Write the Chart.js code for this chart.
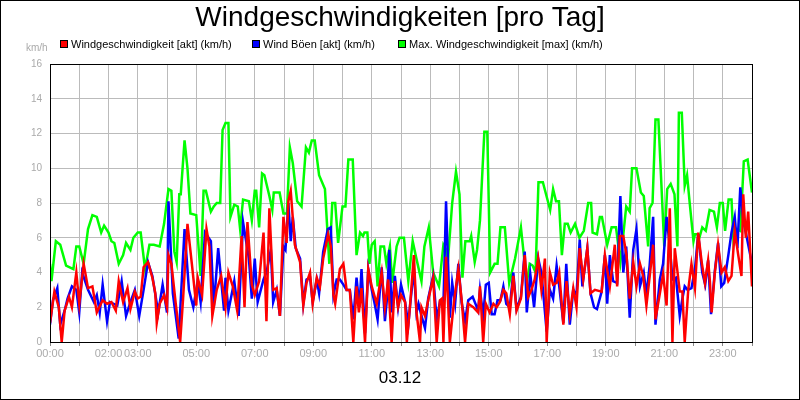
<!DOCTYPE html>
<html><head><meta charset="utf-8">
<script src="https://cdn.jsdelivr.net/npm/chart.js@4"></script>
<style>html,body{margin:0;padding:0;background:#fff}#w{width:800px;height:400px;position:relative}</style>
</head><body><div id="w"><canvas id="c" width="800" height="400"></canvas></div>
<script>
const title = "Windgeschwindigkeiten [pro Tag]";
const dateLabel = "03.12";
const seriesNames = ["Windgeschwindigkeit [akt] (km/h)", "Wind Böen [akt] (km/h)", "Max. Windgeschwindigkeit [max] (km/h)"];
const tickHours = [0,2,3,5,7,9,11,13,15,17,19,21,23];

const redT = [0,0.15,0.3,0.4,0.5,0.65,0.75,0.9,1.0,1.15,1.3,1.45,1.6,1.8,1.95,2.1,2.25,2.35,2.5,2.65,2.75,2.9,3.0,3.1,3.2,3.35,3.5,3.6,3.65,3.75,3.9,4.0,4.05,4.15,4.3,4.45,4.55,4.7,4.85,5.0,5.05,5.2,5.35,5.45,5.55,5.7,5.85,6.0,6.1,6.25,6.4,6.55,6.65,6.75,6.9,7.0,7.15,7.3,7.4,7.5,7.63,7.75,7.86,7.98,8.09,8.15,8.23,8.37,8.55,8.66,8.77,8.89,8.98,9.12,9.23,9.34,9.51,9.6,9.69,9.75,9.91,10.03,10.14,10.25,10.37,10.48,10.56,10.65,10.77,10.88,11.0,11.17,11.34,11.45,11.56,11.68,11.79,11.9,12.0,12.14,12.2,12.31,12.44,12.53,12.65,12.7,12.82,12.93,13.1,13.22,13.33,13.4,13.45,13.54,13.67,13.81,13.96,14.07,14.19,14.3,14.47,14.64,14.7,14.81,14.9,15.03,15.16,15.27,15.38,15.5,15.6,15.72,15.84,15.95,16.1,16.23,16.35,16.46,16.57,16.69,16.8,16.92,16.98,17.09,17.2,17.32,17.41,17.55,17.66,17.77,17.89,18.0,18.11,18.23,18.37,18.48,18.63,18.86,18.97,19.14,19.31,19.39,19.48,19.6,19.71,19.82,19.94,20.05,20.17,20.28,20.39,20.53,20.62,20.7,20.79,20.96,21.08,21.19,21.28,21.36,21.53,21.62,21.7,21.82,21.93,22.05,22.16,22.28,22.39,22.5,22.56,22.62,22.73,22.84,22.96,23.07,23.19,23.3,23.41,23.53,23.64,23.7,23.79,23.87,24.0];
const redV = [1.1,2.9,2.0,0.0,1.8,2.6,2.0,4.0,2.2,4.5,3.1,3.2,1.7,2.4,2.2,2.3,1.8,3.5,2.3,3.1,1.9,2.9,2.5,2.6,4.3,4.6,3.7,2.8,1.1,2.2,2.7,2.0,5.0,4.5,2.2,0.0,2.5,6.8,4.5,2.1,3.7,2.7,6.5,5.5,1.5,3.0,3.8,2.0,4.0,3.2,1.8,6.1,2.0,6.9,3.3,2.7,3.5,6.3,1.2,7.7,3.0,3.1,1.5,7.2,5.7,8.1,8.7,5.6,4.6,2.1,3.4,4.0,2.2,3.7,3.2,4.8,6.2,5.5,2.7,2.2,4.2,4.5,3.0,3.0,0.0,3.2,1.7,3.1,0.0,4.2,3.2,2.2,4.0,2.0,3.6,0.0,3.5,2.0,2.7,2.3,0.0,2.1,5.0,1.7,0.0,2.0,1.5,2.4,3.7,0.0,2.4,2.5,0.0,4.9,0.0,2.3,4.2,2.5,0.0,2.2,2.0,1.7,3.2,0.0,2.2,1.7,2.2,2.0,2.3,3.0,2.8,1.6,3.8,1.8,2.5,5.0,2.6,3.0,3.6,4.8,3.0,4.8,0.0,4.0,3.3,3.4,4.0,1.0,3.5,1.6,3.1,2.0,5.4,3.6,5.4,2.8,3.0,2.9,5.0,3.2,5.6,3.2,6.1,6.1,5.0,2.5,4.6,3.2,4.5,3.8,2.1,4.2,5.6,1.3,2.2,3.9,2.1,7.7,0.0,5.4,2.9,2.9,0.0,3.0,4.5,3.1,6.3,4.6,3.4,4.7,3.5,1.7,4.0,5.6,4.0,4.3,3.5,3.8,6.4,5.0,3.8,8.5,6.0,7.5,3.2];

const blueT = [0,0.1,0.25,0.35,0.5,0.6,0.75,0.9,1.0,1.1,1.3,1.5,1.6,1.7,1.8,1.95,2.05,2.3,2.45,2.6,2.75,2.9,3.05,3.2,3.35,3.5,3.7,3.85,4.0,4.05,4.2,4.4,4.6,4.75,4.9,5.05,5.15,5.3,5.5,5.6,5.75,5.95,6.0,6.1,6.3,6.45,6.6,6.8,6.9,7.0,7.1,7.3,7.4,7.55,7.63,7.75,7.86,7.98,8.05,8.15,8.23,8.3,8.4,8.55,8.66,8.77,8.89,8.98,9.12,9.2,9.34,9.5,9.6,9.69,9.8,9.91,10.03,10.14,10.25,10.37,10.48,10.58,10.65,10.77,10.88,11.0,11.1,11.2,11.34,11.45,11.52,11.6,11.68,11.79,11.9,12.0,12.14,12.25,12.31,12.44,12.53,12.6,12.7,12.82,12.93,13.1,13.22,13.33,13.45,13.54,13.67,13.75,13.85,13.96,14.07,14.19,14.3,14.45,14.64,14.7,14.81,14.9,15.0,15.1,15.2,15.3,15.4,15.5,15.6,15.72,15.84,15.95,16.1,16.23,16.3,16.42,16.55,16.69,16.8,16.98,17.09,17.2,17.32,17.41,17.55,17.65,17.77,17.89,18.0,18.11,18.2,18.37,18.48,18.6,18.7,18.86,18.97,19.05,19.14,19.25,19.39,19.5,19.6,19.7,19.82,19.94,20.05,20.17,20.3,20.39,20.5,20.62,20.7,20.85,20.96,21.08,21.19,21.28,21.4,21.53,21.62,21.7,21.8,21.93,22.05,22.16,22.3,22.4,22.5,22.6,22.73,22.84,22.95,23.05,23.2,23.3,23.41,23.5,23.6,23.7,23.8,24.0];
const blueV = [1.0,2.4,3.1,1.0,1.8,2.5,3.2,3.0,1.7,4.0,3.0,2.3,2.7,1.7,3.3,1.2,2.3,2.1,3.5,1.5,2.3,3.0,1.5,3.0,4.6,3.8,1.7,3.3,1.7,8.1,2.8,0.2,6.5,3.0,2.0,3.5,2.3,6.3,5.8,2.0,5.4,1.8,3.7,1.8,3.5,1.5,6.9,4.8,2.5,4.8,2.3,3.6,4.0,5.3,2.3,3.0,1.5,5.5,5.3,8.0,5.8,7.2,5.4,4.8,2.2,3.6,3.7,2.3,3.6,2.8,5.2,6.5,6.6,2.7,3.6,3.6,3.3,3.0,3.0,1.3,3.7,2.0,4.2,0.5,4.2,3.0,2.2,1.3,4.3,1.2,2.5,5.3,1.7,3.8,2.0,3.3,2.3,1.0,2.1,4.2,1.7,2.2,1.5,0.8,2.5,3.8,1.3,2.3,2.1,8.1,1.4,3.4,2.2,4.5,2.3,1.2,2.4,2.6,1.8,3.0,1.5,3.3,3.4,1.6,1.6,2.4,2.4,3.2,2.2,2.0,4.0,1.9,2.6,5.2,1.7,3.9,2.0,4.8,4.0,0.6,3.0,2.5,4.4,3.2,1.1,4.5,1.0,3.0,2.7,5.9,3.2,5.4,2.8,2.0,1.9,2.9,5.0,2.2,5.0,3.5,3.4,8.4,4.0,5.5,1.4,5.3,6.5,3.2,4.0,2.7,4.4,7.2,1.0,3.6,4.5,7.2,5.5,3.6,3.7,1.5,2.5,3.2,3.0,3.1,4.2,6.2,4.0,3.3,4.7,1.6,4.1,5.7,3.2,3.4,5.1,6.3,7.2,5.4,8.9,7.0,6.2,4.5];

const greenT = [0,0.05,0.2,0.35,0.55,0.8,0.9,1.0,1.15,1.3,1.45,1.6,1.75,1.85,2.0,2.1,2.2,2.35,2.5,2.6,2.75,2.85,3.0,3.1,3.25,3.4,3.55,3.75,3.9,4.05,4.15,4.25,4.33,4.42,4.47,4.6,4.7,4.8,5.0,5.15,5.25,5.33,5.5,5.6,5.7,5.82,5.9,6.0,6.1,6.17,6.3,6.42,6.5,6.6,6.8,6.9,7.0,7.05,7.15,7.25,7.33,7.5,7.6,7.65,7.85,7.98,8.1,8.2,8.3,8.45,8.6,8.75,8.85,8.95,9.05,9.2,9.4,9.55,9.65,9.75,9.85,10.0,10.1,10.2,10.35,10.48,10.6,10.7,10.75,10.85,10.92,11.0,11.1,11.2,11.3,11.42,11.5,11.62,11.7,11.85,11.95,12.1,12.25,12.4,12.5,12.7,12.8,12.95,13.1,13.3,13.45,13.55,13.6,13.75,13.88,14.0,14.1,14.2,14.35,14.4,14.52,14.6,14.7,14.85,14.95,15.05,15.2,15.3,15.4,15.55,15.7,15.9,16.1,16.3,16.4,16.5,16.6,16.7,16.85,17.1,17.2,17.3,17.4,17.5,17.6,17.7,17.8,17.95,18.1,18.25,18.4,18.5,18.55,18.7,18.8,18.87,19.05,19.2,19.35,19.5,19.62,19.7,19.82,19.9,20.05,20.2,20.3,20.45,20.5,20.6,20.7,20.8,21.0,21.1,21.22,21.35,21.45,21.5,21.6,21.7,21.78,21.87,22.0,22.05,22.15,22.2,22.3,22.42,22.55,22.7,22.8,22.9,23.0,23.08,23.2,23.3,23.37,23.5,23.6,23.72,23.85,24.0];
const greenV = [4.5,3.5,5.8,5.6,4.4,4.2,5.5,5.5,4.5,6.5,7.3,7.2,6.3,6.7,6.3,5.8,5.7,4.5,5.0,5.7,5.3,6.0,6.3,6.3,4.2,5.6,5.6,5.5,6.8,8.8,8.7,5.2,4.6,8.5,8.5,11.6,10.0,7.4,7.3,3.8,8.7,8.7,7.5,7.8,8.0,8.0,12.2,12.6,12.6,7.2,7.9,7.8,6.5,8.2,8.1,7.0,8.7,8.7,6.6,9.7,9.6,8.4,7.6,8.6,8.6,7.4,7.4,11.2,10.3,8.1,7.8,11.2,10.9,11.6,11.6,9.6,8.8,4.5,8.0,8.0,5.7,7.8,7.8,10.5,10.5,5.0,6.3,6.1,6.3,6.3,4.5,5.6,5.8,3.2,5.5,5.5,4.5,5.5,3.4,5.5,6.0,6.0,3.5,5.8,5.0,3.5,5.5,6.6,4.0,3.2,5.6,5.3,4.6,8.0,9.8,8.5,3.7,5.8,5.8,6.1,4.6,5.3,7.0,12.1,12.1,4.0,4.5,4.5,6.6,6.6,3.4,4.8,6.6,3.4,4.5,4.4,4.0,9.2,9.2,7.6,8.8,8.1,8.1,5.0,6.8,6.8,6.3,6.8,6.0,6.4,8.0,8.0,6.3,6.2,7.2,7.2,5.6,6.6,6.6,4.6,6.5,7.8,7.5,10.0,10.0,8.6,8.4,5.5,7.7,8.0,12.8,12.8,5.5,8.8,9.1,8.5,5.5,13.2,13.2,9.0,9.6,8.0,5.8,6.2,6.2,6.0,6.6,6.4,7.6,7.5,6.6,8.0,8.0,6.4,8.2,8.2,5.7,6.5,6.4,10.4,10.5,8.6,12.0,13.5,13.5,11.8];

function pts(t, v){ return t.map((x,i)=>({x:x, y:v[i]})); }

const deco = {
  id:'deco',
  afterDraw(ch){
    const c = ch.ctx; c.save();
    c.fillStyle='#000'; c.textAlign='center'; c.textBaseline='middle';
    c.font='28px "Liberation Sans", Arial, sans-serif';
    c.fillText(title, 400, 18);
    c.font='17px "Liberation Sans", Arial, sans-serif';
    c.fillText(dateLabel, 400, 378);
    c.fillStyle='#aaa'; c.font='10px "Liberation Sans", Arial, sans-serif'; c.textAlign='left';
    c.fillText('km/h', 26, 48);
    const cols=['#ff0000','#0000ff','#00ff00']; const xs=[60,252,398];
    c.font='11px "Liberation Sans", Arial, sans-serif';
    for(let i=0;i<3;i++){
      c.fillStyle=cols[i]; c.fillRect(xs[i],40,8,8);
      c.strokeStyle='#000'; c.lineWidth=1; c.strokeRect(xs[i]+0.5,40.5,7,7);
      c.fillStyle='#000'; c.fillText(seriesNames[i], xs[i]+11, 44.5);
    }
    c.strokeStyle='#000'; c.lineWidth=1; c.strokeRect(0.5,0.5,799,399);
    const a=ch.chartArea; c.strokeRect(a.left+0.5,a.top+0.5,a.right-a.left,a.bottom-a.top);
    c.restore();
  }
};

const ds = (label, t, v, col) => ({label, data:pts(t,v), borderColor:col, backgroundColor:col, borderWidth:2.5, pointRadius:0, tension:0, fill:false});

new Chart(document.getElementById('c'), {
  type:'line',
  data:{datasets:[
    ds(seriesNames[0], redT, redV, '#ff0000'),
    ds(seriesNames[1], blueT, blueV, '#0000ff'),
    ds(seriesNames[2], greenT, greenV, '#00ff00')
  ]},
  options:{
    responsive:false, animation:false, devicePixelRatio:1,
    layout:{padding:{left:0,top:64,right:48,bottom:0}},
    plugins:{legend:{display:false}, title:{display:false}, tooltip:{enabled:false}},
    scales:{
      x:{type:'linear', min:0, max:24,
        afterFit(s){ s.height = 58; },
        grid:{color:'#bbbbbb', lineWidth:1, tickLength:4, tickColor:'#888'},
        border:{color:'#000'},
        ticks:{stepSize:1, autoSkip:false, maxRotation:0, color:'#aaa', padding:1,
          font:{size:11, family:'"Liberation Sans", Arial, sans-serif'},
          callback:(v)=> tickHours.includes(v) ? String(v).padStart(2,'0')+':00' : ''}
      },
      y:{min:0, max:16,
        afterFit(s){ s.width = 50; },
        grid:{color:'#bbbbbb', lineWidth:1, drawTicks:false},
        border:{color:'#000'},
        ticks:{stepSize:2, color:'#aaa', padding:8, font:{size:10, family:'"Liberation Sans", Arial, sans-serif'}}
      }
    }
  },
  plugins:[deco]
});
</script></body></html>
